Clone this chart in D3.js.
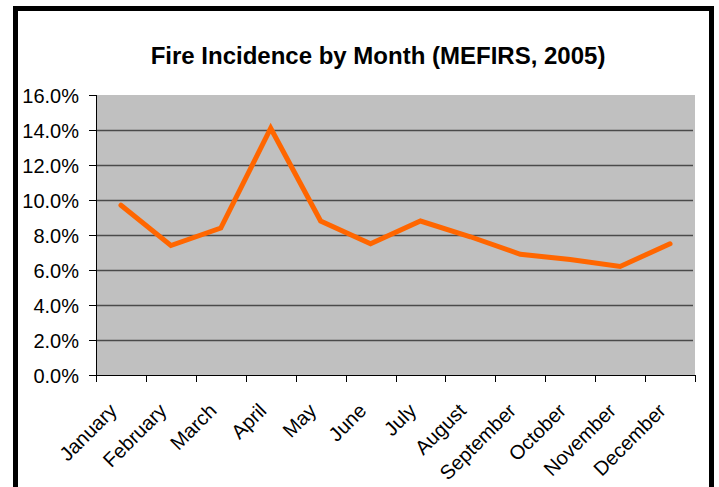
<!DOCTYPE html>
<html>
<head>
<meta charset="utf-8">
<script src="https://cdn.jsdelivr.net/npm/d3@7"></script>
<style>
  body { margin: 0; background: #fff; }
  svg { display: block; font-family: Arial, "Liberation Sans", sans-serif; }
</style>
</head>
<body>
<div id="chart"></div>
<script>
// chart data
var months = ["January", "February", "March", "April", "May", "June",
  "July", "August", "September", "October", "November", "December"];
var incidence = [9.7, 7.4, 8.4, 14.1, 8.8, 7.5, 8.8, 7.9, 6.9, 6.6, 6.2, 7.5];
var yTicks = [0, 2, 4, 6, 8, 10, 12, 14, 16];

var width = 719,
  height = 487;

var margin = {top: 95, right: 24, bottom: 112, left: 96};
var plotW = width - margin.left - margin.right,
  plotH = height - margin.top - margin.bottom;

var svg = d3.select("#chart").append("svg")
  .attr("width", width)
  .attr("height", height);

// outer frame (bottom edge runs off the picture)
svg.append("rect")
  .attr("x", 15.5)
  .attr("y", 8.5)
  .attr("width", 696)
  .attr("height", 500)
  .attr("fill", "none")
  .attr("stroke", "#000")
  .attr("stroke-width", 5);

svg.append("text")
  .attr("x", 378)
  .attr("y", 64)
  .attr("text-anchor", "middle")
  .style("font-size", "24px")
  .style("font-weight", "bold")
  .text("Fire Incidence by Month (MEFIRS, 2005)");

var g = svg.append("g")
  .attr("transform", "translate(" + margin.left + "," + margin.top + ")");

var x = d3.scaleBand()
  .domain(months)
  .range([0, plotW]);

var y = d3.scaleLinear()
  .domain([0, 16])
  .range([plotH, 0]);

g.append("rect")
  .attr("width", plotW)
  .attr("height", plotH)
  .attr("fill", "#c0c0c0");

// gridlines
g.selectAll(".grid")
  .data(yTicks.filter(function(d) { return d > 0 && d < 16; }))
  .enter().append("line")
  .attr("class", "grid")
  .attr("x1", 0)
  .attr("x2", plotW - 2)
  .attr("y1", function(d) { return Math.round(y(d)) + 0.5; })
  .attr("y2", function(d) { return Math.round(y(d)) + 0.5; })
  .attr("stroke", "#4a4a4a")
  .attr("stroke-width", 1.6);

// y axis
var yAxis = d3.axisLeft(y)
  .tickValues(yTicks)
  .tickSize(7)
  .tickPadding(10)
  .tickFormat(function(d) { return d.toFixed(1) + "%"; });

g.append("g")
  .call(yAxis)
  .call(function(a) {
    a.selectAll("text").style("font-size", "20px").attr("fill", "#000").attr("dy", "0.35em");
    a.select(".domain").attr("d", "M0.5," + plotH + "V0");
  });

// x axis: ticks on category boundaries
var boundaries = d3.range(months.length + 1).map(function(i) { return i * x.step(); });
var xAxisG = g.append("g")
  .attr("transform", "translate(0," + plotH + ")");

xAxisG.append("line")
  .attr("x1", 0).attr("x2", plotW)
  .attr("y1", 0.5).attr("y2", 0.5)
  .attr("stroke", "#000");

xAxisG.selectAll(".xtick")
  .data(boundaries)
  .enter().append("line")
  .attr("class", "xtick")
  .attr("x1", function(d) { return Math.round(d) + 0.5; })
  .attr("x2", function(d) { return Math.round(d) + 0.5; })
  .attr("y1", 0)
  .attr("y2", 7)
  .attr("stroke", "#000");

xAxisG.selectAll(".xlab")
  .data(months)
  .enter().append("text")
  .attr("class", "xlab")
  .attr("text-anchor", "end")
  .attr("transform", function(d) {
    return "translate(" + (x(d) + x.bandwidth() / 2 - 3) + ",37) rotate(-45)";
  })
  .style("font-size", "20px")
  .text(function(d) { return d; });

// the series
var line = d3.line()
  .x(function(d, i) { return x(months[i]) + x.bandwidth() / 2; })
  .y(function(d) { return y(d); });

g.append("path")
  .datum(incidence)
  .attr("d", line)
  .attr("fill", "none")
  .attr("stroke", "#ff6600")
  .attr("stroke-width", 5)
  .attr("stroke-linejoin", "miter")
  .attr("stroke-linecap", "round");
</script>
</body>
</html>
